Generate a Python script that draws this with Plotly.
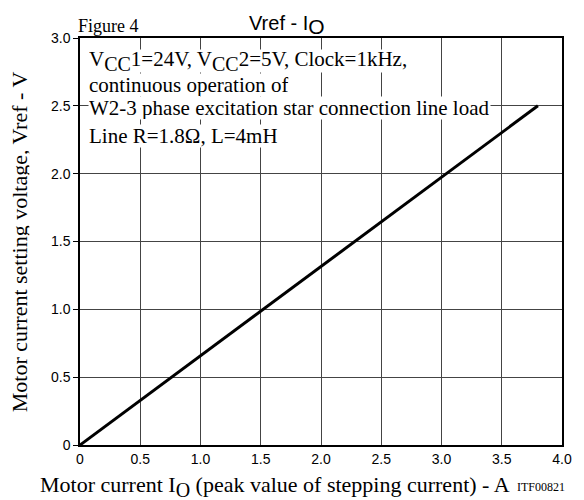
import plotly.graph_objects as go

# Data
current_a = [0.0, 3.8]
vref_v = [0.0, 2.5]
x_tickvals = [0, 0.5, 1.0, 1.5, 2.0, 2.5, 3.0, 3.5, 4.0]
x_ticktext = ["0", "0.5", "1.0", "1.5", "2.0", "2.5", "3.0", "3.5", "4.0"]
y_tickvals = [0, 0.5, 1.0, 1.5, 2.0, 2.5, 3.0]
y_ticktext = ["0", "0.5", "1.0", "1.5", "2.0", "2.5", "3.0"]
SUB = '<sub><span style="font-size:20px">{}</span></sub>'
note_lines = [
    "V" + SUB.format("CC") + "1=24V, V" + SUB.format("CC") + "2=5V, Clock=1kHz,",
    "continuous operation of",
    "W2-3 phase excitation star connection line load",
    "Line R=1.8Ω, L=4mH",
]
note_y = [2.83, 2.655, 2.485, 2.275]

serif = "Liberation Serif, Times New Roman, serif"
sans = "Liberation Sans, Arial, sans-serif"

fig = go.Figure()
fig.add_trace(go.Scatter(x=current_a, y=vref_v, mode="lines",
                         line=dict(color="black", width=3), showlegend=False))

annotations = []
for t, yy in zip(note_lines, note_y):
    annotations.append(dict(
        x=0.016, xref="paper", y=yy, yref="y",
        text=t, showarrow=False, xanchor="left", yanchor="middle",
        font=dict(family=serif, size=21, color="black"),
        bgcolor="white", borderpad=0, height=22,
    ))

annotations += [
    dict(x=-0.008, xref="paper", y=1.0, yref="paper", text="Figure 4",
         showarrow=False, xanchor="left", yanchor="bottom",
         font=dict(family=serif, size=18, color="black")),
    dict(x=0.43, xref="paper", y=0.995, yref="paper",
         text='Vref - I<sub><span style="font-size:21px">O</span></sub>',
         showarrow=False, xanchor="center", yanchor="bottom",
         font=dict(family=sans, size=20, color="black")),
    dict(x=0.405, xref="paper", y=-0.062, yref="paper",
         text="Motor current I" + SUB.format("O") + " (peak value of stepping current) - A",
         showarrow=False, xanchor="center", yanchor="top",
         font=dict(family=serif, size=22, color="black")),
    dict(x=0.957, xref="paper", y=-0.08, yref="paper", text="ITF00821",
         showarrow=False, xanchor="center", yanchor="top",
         font=dict(family=serif, size=12, color="black")),
    dict(x=-0.127, xref="paper", y=0.5, yref="paper",
         text="Motor current setting voltage, Vref - V", textangle=-90,
         showarrow=False, xanchor="center", yanchor="middle", height=20,
         font=dict(family=serif, size=22, color="black")),
]

fig.update_layout(
    width=576, height=492,
    margin=dict(l=72, r=14, t=30, b=55),
    paper_bgcolor="white", plot_bgcolor="white",
    annotations=annotations,
    xaxis=dict(range=[0, 4.0], tickvals=x_tickvals, ticktext=x_ticktext,
               showgrid=True, gridcolor="#444", gridwidth=1,
               showline=True, linecolor="black", linewidth=1.5, mirror=True,
               ticks="", zeroline=False,
               tickfont=dict(family=sans, size=14, color="black")),
    yaxis=dict(range=[0, 3.0], tickvals=y_tickvals, ticktext=y_ticktext,
               showgrid=True, gridcolor="#444", gridwidth=1,
               showline=True, linecolor="black", linewidth=1.5, mirror=True,
               ticks="outside", ticklen=5, tickcolor="black", zeroline=False,
               tickfont=dict(family=sans, size=14, color="black")),
)

fig.write_html("out.html")
